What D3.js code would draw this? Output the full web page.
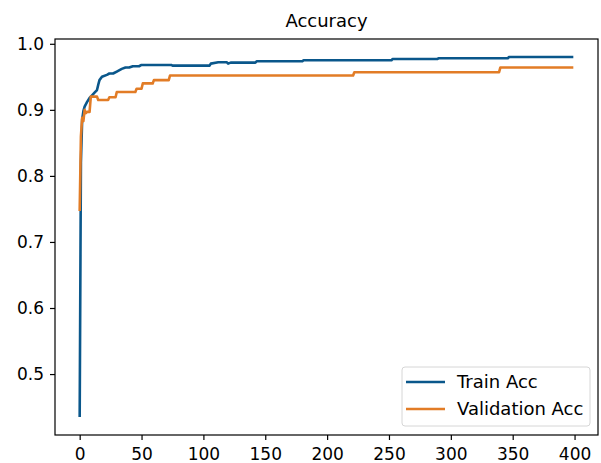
<!DOCTYPE html>
<html>
<head>
<meta charset="utf-8">
<script src="https://cdn.jsdelivr.net/npm/d3@7"></script>
<style>
  body { margin: 0; background: #fff; }
  text { font-family: "DejaVu Sans", sans-serif; fill: #000; }
</style>
</head>
<body>
<svg id="chart"></svg>
<script>
// breakpoints (epoch, accuracy)
const trainEpochs = [0, 1, 2, 3, 4, 6, 8, 10, 12, 14, 15, 16, 18, 22, 24, 27, 30, 34, 37, 40, 43, 48, 50, 74, 75, 105, 106, 112, 119, 120, 122, 142, 143, 180, 181, 252, 253, 289, 290, 346, 347, 399];
const trainAcc = [0.435, 0.82, 0.885, 0.898, 0.905, 0.912, 0.918, 0.922, 0.926, 0.930, 0.938, 0.945, 0.950, 0.953, 0.955, 0.955, 0.958, 0.962, 0.964, 0.964, 0.966, 0.966, 0.968, 0.968, 0.967, 0.967, 0.970, 0.972, 0.972, 0.970, 0.9715, 0.9715, 0.9735, 0.9735, 0.975, 0.975, 0.977, 0.977, 0.978, 0.978, 0.980, 0.980];

const valEpochs = [0, 1, 2, 3, 4, 5, 6, 8, 9, 14, 15, 23, 24, 29, 30, 45, 46, 50, 51, 59, 60, 72, 73, 221, 222, 339, 340, 399];
const valAcc = [0.747, 0.86, 0.888, 0.883, 0.900, 0.895, 0.897, 0.897, 0.920, 0.920, 0.915, 0.915, 0.919, 0.919, 0.927, 0.927, 0.932, 0.932, 0.940, 0.940, 0.945, 0.945, 0.952, 0.952, 0.957, 0.957, 0.964, 0.964];

const xTicks = [0, 50, 100, 150, 200, 250, 300, 350, 400];
const yTicks = [0.5, 0.6, 0.7, 0.8, 0.9, 1.0];

let svgWidth = 601,
  svgHeight = 463;
let margin = { top: 39, right: 3, bottom: 28, left: 55 };
let width = svgWidth - margin.left - margin.right;
let height = svgHeight - margin.top - margin.bottom;

let svg = d3.select("#chart").attr("width", svgWidth).attr("height", svgHeight);
let g = svg.append("g").attr("transform", "translate(" + margin.left + "," + margin.top + ")");

let trainData = trainEpochs.map((e, i) => ({ epoch: e, value: trainAcc[i] }));
let valData = valEpochs.map((e, i) => ({ epoch: e, value: valAcc[i] }));

// matplotlib style 5% padding
let xMin = 0, xMax = 399;
let xPad = (xMax - xMin) * 0.05;
let yMin = d3.min(trainAcc.concat(valAcc)), yMax = d3.max(trainAcc.concat(valAcc));
let yPad = (yMax - yMin) * 0.05;

let x = d3.scaleLinear().domain([xMin - xPad, xMax + xPad]).range([0, width]);
let y = d3.scaleLinear().domain([yMin - yPad, yMax + yPad]).range([height, 0]);

let xAxis = d3.axisBottom(x).tickValues(xTicks).tickFormat(d3.format("d")).tickSizeInner(5).tickSizeOuter(0).tickPadding(8);
let yAxis = d3.axisLeft(y).tickValues(yTicks).tickFormat(d3.format(".1f")).tickSizeInner(5).tickSizeOuter(0).tickPadding(6);

let line = d3.line()
  .x(function(d) { return x(d.epoch); })
  .y(function(d) { return y(d.value); });

g.append("path")
  .datum(trainData)
  .attr("fill", "none")
  .attr("stroke", "#0a578b")
  .attr("stroke-width", 2.6)
  .attr("stroke-linejoin", "round")
  .attr("d", line);

g.append("path")
  .datum(valData)
  .attr("fill", "none")
  .attr("stroke", "#e27c26")
  .attr("stroke-width", 2.6)
  .attr("stroke-linejoin", "round")
  .attr("d", line);

let gx = g.append("g").attr("transform", "translate(0," + height + ")").call(xAxis);
let gy = g.append("g").call(yAxis);
[gx, gy].forEach(function(a) {
  a.select(".domain").remove();
  a.selectAll(".tick line").attr("stroke", "#000").attr("stroke-width", 1.2);
  a.selectAll(".tick text").attr("font-size", 17).attr("font-family", "DejaVu Sans");
});

g.append("rect")
  .attr("width", width)
  .attr("height", height)
  .attr("fill", "none")
  .attr("stroke", "#000")
  .attr("stroke-width", 1.2);

svg.append("text")
  .attr("x", margin.left + width / 2)
  .attr("y", 27)
  .attr("text-anchor", "middle")
  .attr("font-size", 18)
  .text("Accuracy");

// legend
let legend = svg.append("g").attr("transform", "translate(402,367)");
legend.append("rect")
  .attr("width", 188)
  .attr("height", 59)
  .attr("rx", 3)
  .attr("fill", "#fff")
  .attr("fill-opacity", 0.8)
  .attr("stroke", "#d6d6d6")
  .attr("stroke-width", 1);
let entries = [["Train Acc", "#0a578b"], ["Validation Acc", "#e27c26"]];
entries.forEach(function(d, i) {
  let yy = 15 + i * 27;
  legend.append("line")
    .attr("x1", 4).attr("x2", 43)
    .attr("y1", yy).attr("y2", yy)
    .attr("stroke", d[1]).attr("stroke-width", 2.6);
  legend.append("text")
    .attr("x", 55)
    .attr("y", yy)
    .attr("dy", "0.35em")
    .attr("font-size", 18)
    .text(d[0]);
});
</script>
</body>
</html>
